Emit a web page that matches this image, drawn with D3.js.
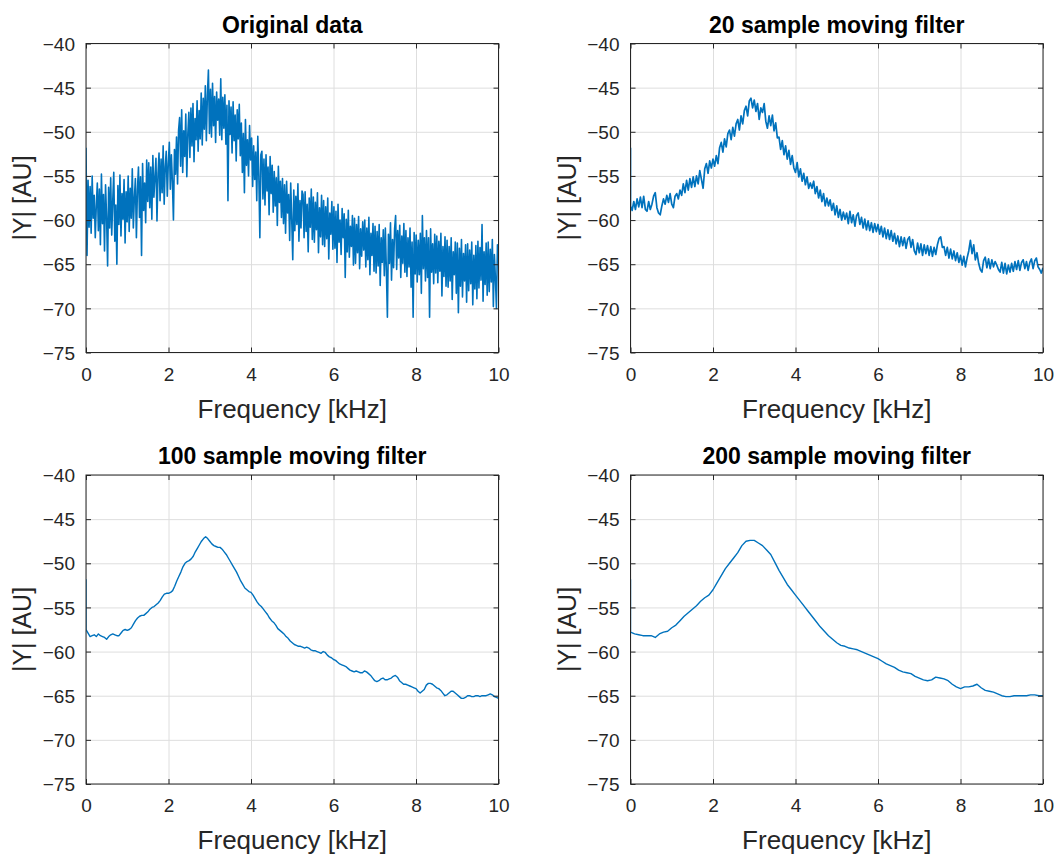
<!DOCTYPE html>
<html>
<head>
<meta charset="utf-8">
<script src="https://cdn.jsdelivr.net/npm/d3@7"></script>
<style>
  body { margin: 0; background: #fff; }
  svg { display: block; font-family: "Liberation Sans", Arial, Helvetica, sans-serif; }
</style>
</head>
<body>
<script>
// axis ticks
var freqTicks = [0, 2, 4, 6, 8, 10];
var levelTicks = [-75, -70, -65, -60, -55, -50, -45, -40];

// value at f = 0 (DC bin), common to all four traces
var dcLevel = -51.8;

// original spectrum, 0..10 kHz on an even grid
var originalDb = [
  -51.8, -64.0, -55.5, -60.8, -56.2, -61.5, -55.0, -59.8, -57.2, -62.0, -58.4,
  -55.8, -61.2, -56.5, -62.8, -54.8, -60.4, -57.1, -63.5, -56.0, -59.6,
  -65.2, -56.3, -60.9, -55.2, -61.7, -57.8, -54.6, -62.4, -58.3, -65.0,
  -56.1, -60.5, -54.9, -61.8, -57.0, -59.9, -55.4, -62.6, -56.8, -60.2,
  -55.0, -61.3, -56.4, -59.8, -54.2, -60.9, -57.5, -55.3, -62.0, -56.6,
  -54.0, -59.7, -55.1, -64.0, -53.6, -58.9, -55.8, -60.3, -53.2, -57.9,
  -53.5, -58.6, -54.0, -59.9, -52.7, -57.4, -55.2, -53.0, -60.1, -54.8,
  -52.4, -57.8, -53.1, -56.9, -51.6, -58.2, -54.0, -52.2, -57.3, -53.6,
  -51.2, -56.5, -52.6, -55.7, -60.0, -52.0, -54.8, -50.6, -55.9, -49.8,
  -48.4, -53.9, -47.5, -54.6, -49.9, -52.8, -48.0, -55.1, -50.2, -47.8,
  -52.9, -47.3, -51.6, -46.8, -53.4, -48.5, -50.9, -46.5, -52.2, -47.6,
  -50.8, -45.6, -51.5, -46.2, -49.7, -44.8, -51.0, -45.9, -43.0, -50.2,
  -45.2, -50.6, -44.5, -49.3, -46.0, -51.2, -45.5, -48.7, -46.3, -50.4,
  -44.0, -50.9, -46.1, -49.6, -45.8, -51.4, -47.0, -57.8, -46.5, -50.3,
  -47.2, -52.4, -46.6, -51.0, -48.1, -53.3, -47.5, -50.8, -46.9, -52.7,
  -49.0, -54.6, -50.2, -56.9, -48.6, -53.8, -50.9, -55.0, -49.3, -53.2,
  -50.7, -56.2, -51.6, -55.4, -52.3, -57.8, -50.5, -54.9, -62.0, -52.6,
  -52.2, -57.6, -53.1, -58.3, -52.6, -56.7, -54.0, -59.4, -52.8, -57.0,
  -53.8, -59.1, -54.5, -58.4, -55.2, -60.6, -53.9, -58.0, -55.6, -59.7,
  -55.3, -60.4, -56.0, -61.5, -55.6, -59.2, -57.1, -62.3, -55.8, -60.0,
  -64.5, -56.6, -61.2, -57.3, -60.5, -55.9, -62.4, -57.8, -60.9, -56.7,
  -57.1, -62.0, -56.8, -61.3, -58.2, -63.6, -57.5, -60.8, -56.5, -62.2,
  -57.4, -62.5, -58.0, -61.1, -56.9, -63.7, -58.6, -61.9, -57.2, -62.8,
  -57.8, -63.0, -58.5, -62.1, -57.5, -64.4, -59.2, -61.6, -57.9, -63.3,
  -58.5, -63.2, -59.0, -64.8, -58.2, -62.5, -60.0, -63.9, -58.7, -62.0,
  -59.3, -66.5, -59.9, -63.6, -58.9, -64.2, -60.7, -63.0, -59.5, -65.1,
  -59.8, -64.9, -60.5, -63.7, -59.6, -65.5, -61.0, -64.1, -60.2, -63.4,
  -60.0, -65.3, -60.9, -64.5, -59.7, -66.2, -61.5, -64.0, -60.4, -65.8,
  -60.7, -66.0, -61.3, -65.2, -60.5, -67.4, -62.0, -64.8, -61.1, -66.3,
  -60.9, -65.7, -71.0, -61.6, -64.9, -60.3, -66.8, -62.2, -65.4, -61.0,
  -59.5, -65.6, -61.2, -64.3, -60.6, -66.5, -61.8, -64.9, -60.4, -65.9,
  -61.2, -66.4, -62.0, -65.3, -60.9, -67.6, -62.5, -71.0, -61.4, -66.1,
  -61.7, -67.0, -62.3, -66.2, -61.5, -68.3, -59.5, -65.5, -62.0, -66.9,
  -61.2, -66.5, -62.0, -71.0, -61.0, -65.9, -62.7, -67.2, -61.6, -66.0,
  -61.8, -67.1, -62.4, -65.8, -61.5, -68.6, -63.0, -66.4, -61.9, -67.5,
  -62.3, -67.6, -63.0, -66.9, -62.0, -69.0, -63.6, -66.2, -62.5, -68.3,
  -62.6, -70.5, -63.2, -67.5, -62.2, -68.7, -63.8, -66.9, -62.8, -69.3,
  -62.7, -68.0, -63.4, -67.2, -62.5, -69.6, -64.0, -67.8, -62.9, -68.9,
  -62.4, -67.7, -63.1, -66.8, -60.5, -69.2, -63.6, -67.3, -62.6, -68.5,
  -62.5, -68.1, -63.3, -67.0, -62.2, -69.8, -63.9, -66.6, -70.0, -62.8,
  -63.2
];

// 20 sample moving average, 0..10 kHz
var movAvg20 = [
  -58.4, -58.9, -57.9, -58.8, -57.6, -58.5, -57.4, -58.6, -57.3, -58.8,
  -59.0, -57.9, -58.8, -58.2, -57.3, -56.9, -58.6, -59.2, -59.4, -58.4,
  -57.6, -58.2, -57.2, -58.0, -57.0, -58.2, -58.6, -57.3, -57.0, -57.6,
  -56.6, -57.2, -55.9, -56.9, -55.5, -56.6, -55.3, -56.3, -55.1, -56.2,
  -55.0, -55.9, -54.4, -55.4, -56.4, -54.2, -53.6, -54.7, -53.3, -54.1,
  -53.1, -53.9, -52.7, -53.6, -51.8, -51.2, -52.3, -50.8, -51.7, -50.2,
  -49.8, -50.9, -49.5, -50.5, -49.1, -48.6, -49.8, -48.2, -49.1, -47.6,
  -47.1, -48.2, -46.5, -46.2, -47.3, -46.4, -47.7, -46.8, -48.6, -47.3,
  -47.8, -46.8, -48.8, -49.6, -48.2, -49.3, -48.1, -49.9, -49.0, -50.7,
  -50.6, -52.0, -51.0, -52.6, -51.6, -53.1, -52.1, -53.7, -52.7, -54.1,
  -54.6, -53.5, -55.1, -54.2, -55.6, -54.7, -56.0, -55.1, -56.4, -55.8,
  -56.4, -55.6, -57.0, -56.2, -57.5, -56.6, -57.9, -57.0, -58.4, -57.5,
  -58.4, -57.7, -58.9, -58.1, -59.4, -58.4, -59.7, -58.8, -60.0, -59.1,
  -59.9, -59.2, -60.4, -59.0, -60.3, -59.4, -60.7, -59.5, -59.2, -60.5,
  -59.7, -60.9, -59.9, -61.1, -60.1, -61.2, -60.3, -61.4, -60.4, -61.3,
  -60.5, -61.6, -60.7, -61.9, -60.9, -62.1, -61.1, -62.2, -61.2, -62.4,
  -61.5, -62.7, -61.8, -63.0, -61.9, -62.9, -62.0, -63.2, -62.2, -61.9,
  -63.1, -62.2, -63.5, -63.9, -62.6, -63.7, -62.7, -64.0, -62.8, -63.8,
  -62.9, -64.0, -63.0, -64.1, -63.1, -63.9, -62.8, -62.1, -61.9, -63.1,
  -63.0, -64.0, -63.1, -64.3, -63.3, -64.4, -63.5, -64.6, -63.7, -64.8,
  -64.0, -65.1, -64.1, -65.3, -64.3, -63.5, -62.3, -63.8, -62.8, -64.5,
  -63.7, -64.9, -65.6, -65.9, -64.6, -64.2, -65.4, -64.4, -65.5, -64.5,
  -65.3, -64.7, -65.1, -65.6, -65.9, -64.8, -66.0, -64.9, -66.1, -65.1,
  -65.9, -64.9, -65.8, -64.7, -65.6, -64.6, -65.7, -64.8, -64.5, -65.5,
  -64.7, -65.7, -64.8, -64.4, -65.5, -64.6, -64.3, -65.3, -65.6, -66.0,
  -65.4
];

// 100 sample moving average, 0..10 kHz
var movAvg100 = [
  -57.5, -57.9, -58.3, -58.2, -58.1, -58.3, -58.0, -58.2, -58.3, -58.4,
  -58.6, -58.3, -58.1, -58.0, -58.1, -58.2, -58.2, -57.9, -57.6, -57.5,
  -57.6, -57.5, -57.3, -56.9, -56.5, -56.2, -56.0, -55.9, -55.9, -55.7,
  -55.5, -55.2, -55.0, -54.9, -54.7, -54.5, -54.2, -53.8, -53.5, -53.4,
  -53.4, -53.3, -53.1, -52.6, -52.0, -51.5, -51.0, -50.4, -50.0, -49.8,
  -49.7, -49.5, -49.2, -48.7, -48.3, -47.9, -47.5, -47.2, -47.0, -47.2,
  -47.5, -47.8, -48.0, -48.1, -48.2, -48.2, -48.4, -48.7, -49.0, -49.4,
  -49.8, -50.2, -50.6, -51.0, -51.5, -52.0, -52.4, -52.8, -53.0, -53.2,
  -53.3, -53.6, -54.0, -54.4, -54.7, -54.9, -55.2, -55.5, -55.8, -56.2,
  -56.5, -56.7, -57.0, -57.4, -57.6, -57.8, -58.0, -58.3, -58.5, -58.8,
  -59.0, -59.2, -59.3, -59.4, -59.4, -59.5, -59.6, -59.5, -59.6, -59.8,
  -59.9, -59.9, -60.0, -60.1, -60.2, -60.0, -60.1, -60.4, -60.6, -60.7,
  -60.9, -61.0, -61.2, -61.4, -61.5, -61.6, -61.7, -61.9, -62.1, -62.2,
  -62.3, -62.2, -62.3, -62.4, -62.4, -62.2, -62.3, -62.5, -62.7, -63.0,
  -63.3, -63.4, -63.3, -63.1, -63.0, -63.2, -63.2, -63.1, -63.0, -62.8,
  -62.7, -62.9, -63.3, -63.5, -63.7, -63.7, -63.8, -63.9, -64.0, -64.1,
  -64.2, -64.5, -64.7, -64.5, -64.3, -63.8, -63.6, -63.6, -63.7, -63.9,
  -64.1, -64.2, -64.4, -64.7, -65.0, -64.9, -64.7, -64.5, -64.5, -64.7,
  -64.9, -65.1, -65.3, -65.3, -65.2, -65.0, -65.0, -65.1, -65.1, -65.0,
  -65.0, -65.1, -65.0, -65.0, -65.0, -64.9, -64.8, -64.9, -65.1, -65.2,
  -65.3
];

// 200 sample moving average, 0..10 kHz
var movAvg200 = [
  -57.8, -58.0, -58.1, -58.2, -58.2, -58.2, -58.4, -58.0, -57.8, -57.7,
  -57.3, -57.0, -56.5, -56.0, -55.6, -55.2, -54.8, -54.3, -53.9, -53.6,
  -53.0, -52.2, -51.4, -50.6, -50.0, -49.4, -48.8, -48.0, -47.5, -47.4,
  -47.4, -47.7, -48.0, -48.5, -49.0, -49.9, -50.8, -51.6, -52.4, -53.0,
  -53.6, -54.2, -54.8, -55.4, -56.0, -56.6, -57.2, -57.7, -58.2, -58.6,
  -59.0, -59.3, -59.4, -59.6, -59.7, -59.8, -60.0, -60.2, -60.4, -60.6,
  -60.8, -61.1, -61.4, -61.6, -61.8, -62.1, -62.3, -62.4, -62.5, -62.8,
  -63.0, -63.2, -63.3, -63.2, -62.9, -63.0, -63.1, -63.3, -63.7, -64.0,
  -64.2, -64.0, -64.0, -63.9, -63.7, -64.1, -64.4, -64.5, -64.6, -64.8,
  -65.0, -65.1, -65.1, -65.0, -65.0, -65.0, -65.0, -64.9, -64.9, -65.0,
  -65.0
];

var panels = [
  {title: 'Original data', values: originalDb, dc: false, lw: 1.6, left: 86, top: 43.5},
  {title: '20 sample moving filter', values: movAvg20, dc: true, lw: 1.7, left: 630.5, top: 43.5},
  {title: '100 sample moving filter', values: movAvg100, dc: true, lw: 1.4, left: 86, top: 475},
  {title: '200 sample moving filter', values: movAvg200, dc: true, lw: 1.4, left: 630.5, top: 475}
];

var plotW = 412.5;
var plotH = 309;
var lineColor = '#0072BD';
var axisColor = '#262626';

var svg = d3.select('body')
  .append('svg')
  .attr('width', 1059)
  .attr('height', 857);

panels.forEach(function(p, idx) {
  var x = d3.scaleLinear().domain([0, 10]).range([0, plotW]);
  var y = d3.scaleLinear().domain([-75, -40]).range([plotH, 0]);

  var g = svg.append('g')
    .attr('transform', 'translate(' + p.left + ',' + p.top + ')');

  // grid
  g.append('g')
    .attr('class', 'grid')
    .call(d3.axisBottom(x).tickValues(freqTicks).tickSize(plotH).tickFormat(''));
  g.append('g')
    .attr('class', 'grid')
    .call(d3.axisLeft(y).tickValues(levelTicks).tickSize(-plotW).tickFormat(''));
  g.selectAll('.grid path').remove();
  g.selectAll('.grid line').attr('stroke', '#dedede').attr('stroke-width', 1);

  // trace
  var n = p.values.length;
  var pts = p.values.map(function(v, i) {
    return [i * 10 / (n - 1), v];
  });
  if (p.dc) pts.unshift([0, dcLevel]);

  var clipId = 'clip' + idx;
  g.append('clipPath').attr('id', clipId)
    .append('rect').attr('width', plotW).attr('height', plotH);

  g.append('path')
    .datum(pts)
    .attr('clip-path', 'url(#' + clipId + ')')
    .attr('fill', 'none')
    .attr('stroke', lineColor)
    .attr('stroke-width', p.lw)
    .attr('stroke-linejoin', 'round')
    .attr('d', d3.line()
      .x(function(d) { return x(d[0]); })
      .y(function(d) { return y(d[1]); }));

  // axes with inward ticks
  var tick = 5;
  var bottom = g.append('g').attr('class', 'ax')
    .attr('transform', 'translate(0,' + plotH + ')')
    .call(d3.axisBottom(x).tickValues(freqTicks).tickSize(-tick).tickPadding(15));
  var left = g.append('g').attr('class', 'ax')
    .call(d3.axisLeft(y).tickValues(levelTicks).tickSize(-tick).tickPadding(11));
  g.append('g').attr('class', 'ax')
    .call(d3.axisTop(x).tickValues(freqTicks).tickSize(-tick).tickFormat(''));
  g.append('g').attr('class', 'ax')
    .attr('transform', 'translate(' + plotW + ',0)')
    .call(d3.axisRight(y).tickValues(levelTicks).tickSize(-tick).tickFormat(''));

  g.selectAll('.ax path').remove();
  g.selectAll('.ax line').attr('stroke', axisColor).attr('stroke-width', 1);
  g.selectAll('.ax text')
    .attr('fill', axisColor)
    .style('font-size', '19px');
  bottom.selectAll('text').attr('dy', '0.71em');
  left.selectAll('text').attr('dy', '0.35em');

  // box
  g.append('rect')
    .attr('width', plotW)
    .attr('height', plotH)
    .attr('fill', 'none')
    .attr('stroke', axisColor)
    .attr('stroke-width', 1);

  // title
  g.append('text')
    .attr('x', plotW / 2)
    .attr('y', -11)
    .attr('text-anchor', 'middle')
    .style('font-size', '23px')
    .style('font-weight', 'bold')
    .attr('fill', '#000')
    .text(p.title);

  // axis labels
  g.append('text')
    .attr('x', plotW / 2)
    .attr('y', plotH + 65)
    .attr('text-anchor', 'middle')
    .style('font-size', '26px')
    .attr('fill', axisColor)
    .text('Frequency [kHz]');

  g.append('text')
    .attr('transform', 'translate(-55,' + (plotH / 2) + ') rotate(-90)')
    .attr('text-anchor', 'middle')
    .style('font-size', '25px')
    .attr('fill', axisColor)
    .text('|Y| [AU]');
});
</script>
</body>
</html>
